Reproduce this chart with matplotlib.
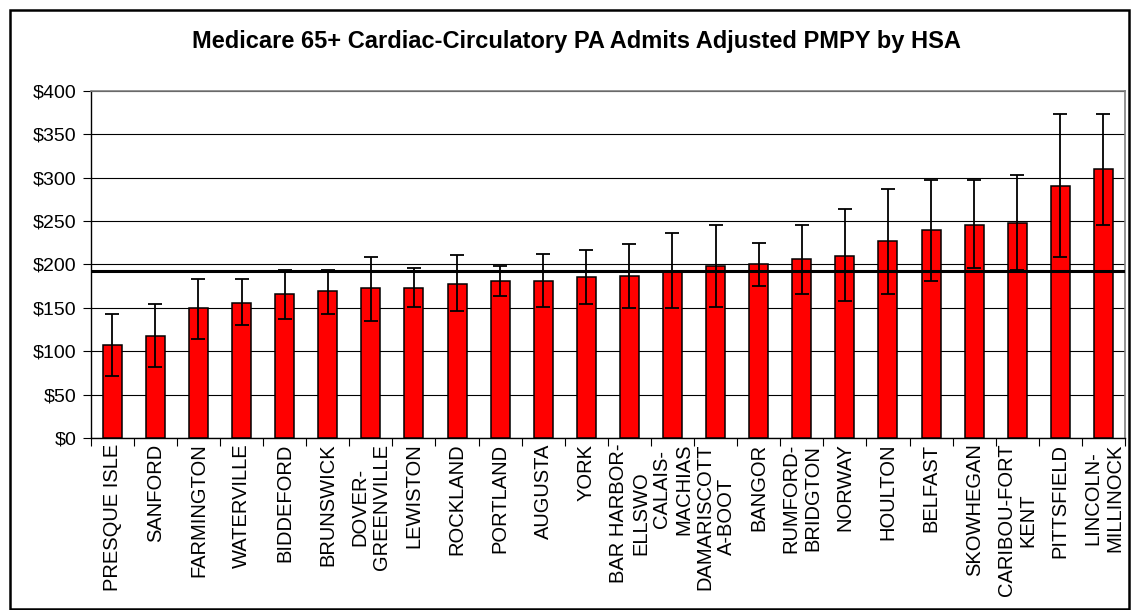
import matplotlib.pyplot as plt
from matplotlib.patches import Rectangle
import numpy as np

plt.rcParams['font.family'] = ['Liberation Sans', 'DejaVu Sans']

# HSA names (wrapped as in the original chart)
hsa = ["PRESQUE ISLE", "SANFORD", "FARMINGTON", "WATERVILLE", "BIDDEFORD",
       "BRUNSWICK", "DOVER-\nGREENVILLE", "LEWISTON", "ROCKLAND", "PORTLAND",
       "AUGUSTA", "YORK", "BAR HARBOR-\nELLSWO", "CALAIS-\nMACHIAS",
       "DAMARISCOTT\nA-BOOT", "BANGOR", "RUMFORD-\nBRIDGTON", "NORWAY",
       "HOULTON", "BELFAST", "SKOWHEGAN", "CARIBOU-FORT\nKENT", "PITTSFIELD",
       "LINCOLN-\nMILLINOCK"]

pmpy = [107, 118, 150, 156, 166, 169, 173, 173, 177, 181, 181, 185,
        187, 192, 198, 200, 206, 210, 227, 240, 246, 248, 290, 310]
ci_low = [72, 82, 114, 130, 137, 143, 135, 151, 146, 164, 151, 154,
          150, 150, 151, 175, 166, 158, 166, 181, 196, 194, 209, 246]
ci_high = [143, 154, 183, 183, 194, 194, 209, 196, 211, 198, 212, 217,
           223, 236, 246, 225, 246, 264, 287, 297, 297, 303, 373, 373]
state_avg = 192

yticks = [0, 50, 100, 150, 200, 250, 300, 350, 400]
ytick_labels = ["$" + str(v) for v in yticks]

fig = plt.figure(figsize=(11.31, 6.10), dpi=100)
ax = fig.add_axes([0.0802, 0.282, 0.9145, 0.569])

x = np.arange(len(hsa))
vals = np.array(pmpy)
err = [vals - np.array(ci_low), np.array(ci_high) - vals]

ax.bar(x, vals, width=0.44, color='#FF0000', edgecolor='black', linewidth=1.1, zorder=3)
ax.errorbar(x, vals, yerr=err, fmt='none', ecolor='black', elinewidth=1.3,
            capsize=4.8, capthick=1.3, zorder=4)
ax.axhline(state_avg, color='black', linewidth=2.2, zorder=5)

ax.set_xlim(-0.5, len(hsa) - 0.5)
ax.set_ylim(0, 400)
ax.set_yticks(yticks)
ax.set_yticklabels(ytick_labels, fontsize=14)
ax.yaxis.grid(True, color='black', linewidth=0.8, zorder=0)
ax.set_axisbelow(True)

ax.set_xticks(x)
ax.set_xticklabels(hsa, rotation=90, fontsize=14.5, ha='center', va='top',
                   multialignment='center')
ax.tick_params(axis='x', which='major', length=0, pad=4)
ax.set_xticks(np.arange(-0.5, len(hsa), 1), minor=True)
ax.tick_params(axis='x', which='minor', length=6, width=0.8, direction='out')
ax.tick_params(axis='y', length=6, width=0.8, pad=4)

for s in ['top', 'right']:
    ax.spines[s].set_color('#808080')
    ax.spines[s].set_linewidth(1.2)
for s in ['left', 'bottom']:
    ax.spines[s].set_color('black')
    ax.spines[s].set_linewidth(1.0)

fig.text(0.51, 0.932, "Medicare 65+ Cardiac-Circulatory PA Admits Adjusted PMPY by HSA",
         ha='center', va='center', fontsize=17, fontweight='bold')

fig.patches.append(Rectangle((0.0084, 0.002), 0.9896, 0.981, transform=fig.transFigure,
                             fill=False, edgecolor='black', linewidth=1.8))

fig.savefig('out.png', dpi=100)
